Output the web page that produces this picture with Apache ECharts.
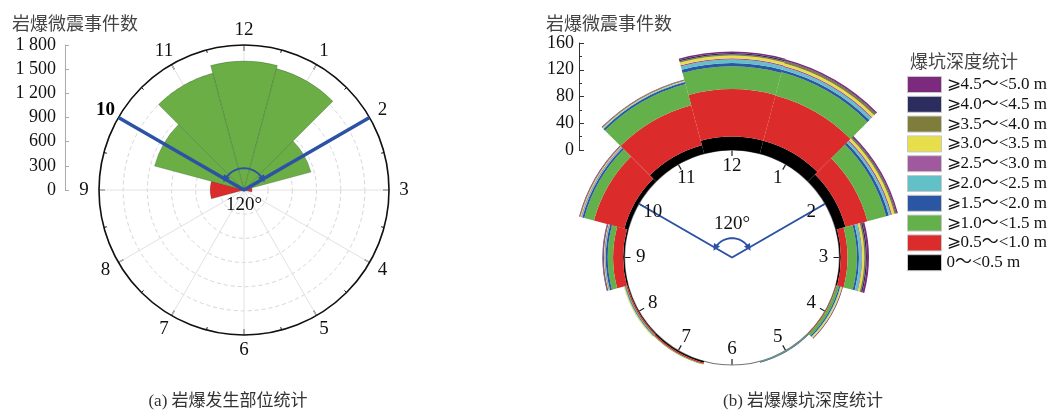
<!DOCTYPE html>
<html>
<head>
<meta charset="utf-8">
<script src="https://cdn.jsdelivr.net/npm/echarts@6/dist/echarts.min.js"></script>
<style>
  html, body { margin: 0; padding: 0; background: #fff; }
  #chart { width: 1064px; height: 413px; }
</style>
</head>
<body>
<div id="chart"></div>
<script>
// Clock positions around the tunnel section, starting at the crown.
const hours = ['12', '1', '2', '3', '4', '5', '6', '7', '8', '9', '10', '11'];

// (a) Microseismic events recorded at each clock position.
const eventCounts = [1600, 1560, 860, 100, 0, 0, 0, 0, 0, 420, 1150, 1500];
const eventTicks = [0, 300, 600, 900, 1200, 1500, 1800];

// (b) Craters at each clock position, one array per depth class.
const depthClasses = [
  '0～<0.5 m', '⩾0.5～<1.0 m', '⩾1.0～<1.5 m', '⩾1.5～<2.0 m', '⩾2.0～<2.5 m',
  '⩾2.5～<3.0 m', '⩾3.0～<3.5 m', '⩾3.5～<4.0 m', '⩾4.0～<4.5 m', '⩾4.5～<5.0 m'
];
const depth00to05 = [20, 20, 15, 2, 0, 0, 0, 2, 1, 2, 6, 13];
const depth05to10 = [71, 70, 34, 10, 1, 0, 0, 2, 2, 15, 47, 62];
const depth10to15 = [34, 36, 29, 14, 4, 1, 0, 1, 1, 8, 15, 33];
const depth15to20 = [5, 4, 4, 3, 2, 1, 0, 0, 1, 3, 3, 3];
const depth20to25 = [5, 4, 3, 4, 1, 0, 0, 0, 1, 1, 1, 1];
const depth25to30 = [2, 2, 2, 1, 0, 0, 0, 0, 0, 1, 1, 0];
const depth30to35 = [4, 4, 4, 3, 2, 0, 0, 0, 1, 1, 1, 1];
const depth35to40 = [2, 3, 2, 2, 0, 0, 0, 0, 0, 0, 1, 1];
const depth40to45 = [2, 1, 1, 2, 0, 0, 0, 0, 0, 1, 0, 0];
const depth45to50 = [2, 2, 2, 3, 1, 0, 0, 0, 0, 1, 1, 1];
const craterTicks = [0, 40, 80, 120, 160];

// Crown sector bounded by the two blue rays (10 o'clock to 2 o'clock, 120°).
const crownFrom = 10, crownTo = 2;

const FONT = "'Liberation Serif', 'Noto Sans CJK SC', serif";
const CJK = "'Noto Sans CJK SC', sans-serif";
const GREEN = '#6aae45', RED = '#dc2b2b', BLUE = '#2b52a5';
const depthColors = ['#000000', '#dc2b2b', '#64b04a', '#2a56a3', '#62c0c9',
  '#a0589e', '#e6de4a', '#7e7d3b', '#2b2d5e', '#7b2a7d'];
const depthData = [depth00to05, depth05to10, depth10to15, depth15to20, depth20to25,
  depth25to30, depth30to35, depth35to40, depth40to45, depth45to50];

const inCrown = h => { const n = Number(h); return n >= crownFrom || n <= crownTo; };

// Small arc with arrowheads marking the crown angle.
function crownArc(r) {
  const pts = [];
  for (let t = crownFrom; t <= crownTo + 12 + 1e-6; t += 0.1) {
    pts.push([r, t % 12]);
  }
  const first = pts[0], last = pts[pts.length - 1];
  pts[0] = { value: first, symbol: 'triangle', symbolSize: 7, symbolRotate: 150 };
  pts[pts.length - 1] = { value: last, symbol: 'triangle', symbolSize: 7, symbolRotate: -150 };
  return pts;
}

// Text placed at a polar position of a dial, centred on that point.
function dialText(polarIndex, data, formatter) {
  return {
    type: 'scatter', coordinateSystem: 'polar', polarIndex, z: 6,
    symbolSize: 1, itemStyle: { color: 'rgba(0,0,0,0)' },
    label: {
      show: true, position: 'inside', formatter,
      fontSize: 19, color: '#111', opacity: 1, fontFamily: FONT,
      rich: { b: { fontWeight: 'bold', fontSize: 19, fontFamily: FONT, color: '#000' } }
    },
    data
  };
}

const chart = echarts.init(document.getElementById('chart'), null, { renderer: 'canvas' });

const hiddenCategoryAngle = {
  type: 'category', data: hours, startAngle: 105, clockwise: true,
  axisLine: { show: false }, axisTick: { show: false },
  axisLabel: { show: false }, splitLine: { show: false }
};
const hiddenValueAngle = {
  type: 'value', min: 0, max: 12, startAngle: 90, clockwise: true, show: false
};

const option = {
  backgroundColor: '#fff',
  animation: false,
  textStyle: { fontFamily: FONT },
  polar: [
    { center: [244, 190], radius: 145 },
    { center: [244, 190], radius: 145 },
    { center: [732, 257.5], radius: [107.5, 214.5] },
    { center: [732, 257.5], radius: 107.5 },
    { center: [244, 190], radius: 160 }
  ],
  angleAxis: [
    Object.assign({ polarIndex: 0 }, hiddenCategoryAngle),
    {
      polarIndex: 1, type: 'value', min: 0, max: 12, interval: 1,
      startAngle: 90, clockwise: true, z: 1,
      axisLine: { lineStyle: { color: '#111', width: 1.6 } },
      axisTick: { inside: true, length: 6, lineStyle: { color: '#111', width: 1.2 } },
      minorTick: { show: true, splitNumber: 2, length: 3, lineStyle: { color: '#111', width: 1 } },
      axisLabel: { show: false },
      splitLine: { show: true, lineStyle: { color: '#e2e2e2', width: 1 } }
    },
    Object.assign({ polarIndex: 2 }, hiddenCategoryAngle),
    {
      polarIndex: 3, type: 'value', min: 0, max: 12, interval: 1,
      startAngle: 90, clockwise: true, z: 1,
      axisLine: { lineStyle: { color: '#777', width: 1.2 } },
      axisTick: { inside: true, length: 6, lineStyle: { color: '#222', width: 1.2 } },
      axisLabel: { show: false },
      splitLine: { show: false }
    },
    Object.assign({ polarIndex: 4 }, hiddenValueAngle)
  ],
  radiusAxis: [
    {
      polarIndex: 0, type: 'value', min: eventTicks[0], max: eventTicks[eventTicks.length - 1],
      interval: eventTicks[1] - eventTicks[0],
      axisLine: { show: false }, axisTick: { show: false }, axisLabel: { show: false },
      splitLine: { show: true, lineStyle: { color: '#d6d6d6', type: [4, 3], width: 1 } }
    },
    { polarIndex: 1, type: 'value', min: 0, max: 1, show: false },
    {
      polarIndex: 2, type: 'value', min: craterTicks[0], max: craterTicks[craterTicks.length - 1],
      show: false, splitLine: { show: false }
    },
    { polarIndex: 3, type: 'value', min: 0, max: 1, show: false },
    { polarIndex: 4, type: 'value', min: 0, max: 1, show: false }
  ],
  grid: [
    { left: 65, top: 45, height: 145, width: 10 },
    { left: 579, top: 43, height: 107, width: 10 }
  ],
  xAxis: [
    { gridIndex: 0, type: 'value', show: false },
    { gridIndex: 1, type: 'value', show: false }
  ],
  yAxis: [
    {
      gridIndex: 0, type: 'value', min: eventTicks[0], max: eventTicks[eventTicks.length - 1],
      interval: eventTicks[1] - eventTicks[0],
      axisLine: { show: true, lineStyle: { color: '#aaa', width: 1 } },
      axisTick: { show: true, inside: true, length: 4, lineStyle: { color: '#aaa' } },
      axisLabel: {
        margin: 9, fontSize: 18, color: '#111', fontFamily: FONT,
        formatter: v => String(v).replace(/\B(?=(\d{3})+$)/g, ' ')
      },
      splitLine: { show: false }
    },
    {
      gridIndex: 1, type: 'value', min: craterTicks[0], max: craterTicks[craterTicks.length - 1],
      interval: craterTicks[1] - craterTicks[0],
      axisLine: { show: true, lineStyle: { color: '#333', width: 1 } },
      axisTick: { show: true, inside: true, length: 5, lineStyle: { color: '#333' } },
      minorTick: { show: true, splitNumber: 2, length: 3, lineStyle: { color: '#333' } },
      axisLabel: { margin: 5, fontSize: 18, color: '#111', fontFamily: FONT },
      splitLine: { show: false }
    }
  ],
  legend: {
    orient: 'vertical', left: 907, top: 76, padding: 0,
    itemWidth: 34, itemHeight: 16, itemGap: 2.8, icon: 'rect',
    selectedMode: false,
    itemStyle: { borderColor: '#c8c8c8', borderWidth: 1 },
    textStyle: { fontSize: 17, color: '#111', fontFamily: FONT },
    data: depthClasses.slice().reverse()
  },
  graphic: [
    { type: 'text', x: 12, y: 23, style: { text: '岩爆微震事件数', font: `18px ${CJK}`, fill: '#444', verticalAlign: 'middle' } },
    { type: 'text', x: 546, y: 23, style: { text: '岩爆微震事件数', font: `18px ${CJK}`, fill: '#444', verticalAlign: 'middle' } },
    { type: 'text', x: 910, y: 61, style: { text: '爆坑深度统计', font: `18px ${CJK}`, fill: '#444', verticalAlign: 'middle' } },
    { type: 'text', x: 228, y: 402, style: { text: '(a) 岩爆发生部位统计', font: `17px ${FONT}`, fill: '#333', align: 'center', verticalAlign: 'middle' } },
    { type: 'text', x: 803, y: 402, style: { text: '(b) 岩爆爆坑深度统计', font: `17px ${FONT}`, fill: '#333', align: 'center', verticalAlign: 'middle' } }
  ],
  series: [
    // (a) events per clock position
    {
      type: 'bar', coordinateSystem: 'polar', polarIndex: 0, barCategoryGap: '0%', z: 2,
      data: eventCounts.map((v, i) => ({
        value: v,
        itemStyle: {
          color: inCrown(hours[i]) ? GREEN : RED,
          borderColor: 'rgba(40,60,35,0.5)', borderWidth: 0.5
        }
      }))
    },
    // (a) crown rays, angle arc and clock numerals
    {
      type: 'line', coordinateSystem: 'polar', polarIndex: 1, z: 5, symbol: 'none',
      lineStyle: { color: BLUE, width: 3.5 },
      data: [[1, crownFrom], [0, 0], [1, crownTo]]
    },
    {
      type: 'line', coordinateSystem: 'polar', polarIndex: 1, z: 5,
      symbol: 'none', showSymbol: true, showAllSymbol: true,
      itemStyle: { color: BLUE },
      lineStyle: { color: BLUE, width: 1.8 },
      data: crownArc(0.15)
    },
    dialText(1, [[0.105, 6]], '120°'),
    dialText(4, hours.map(h => [1, Number(h) % 12]),
      p => (hours[p.dataIndex] === String(crownFrom) ? '{b|' + hours[p.dataIndex] + '}' : hours[p.dataIndex])),
    // (b) craters stacked by depth class
    ...depthClasses.map((name, k) => ({
      name, type: 'bar', coordinateSystem: 'polar', polarIndex: 2, stack: 'depth',
      barCategoryGap: '0%', z: 2,
      itemStyle: { color: depthColors[k] },
      data: depthData[k]
    })),
    // (b) crown rays, angle arc and clock numerals
    {
      type: 'line', coordinateSystem: 'polar', polarIndex: 3, z: 5, symbol: 'none',
      lineStyle: { color: BLUE, width: 2 },
      data: [[1, crownFrom], [0, 0], [1, crownTo]]
    },
    {
      type: 'line', coordinateSystem: 'polar', polarIndex: 3, z: 5,
      symbol: 'none', showSymbol: true, showAllSymbol: true,
      itemStyle: { color: BLUE },
      lineStyle: { color: BLUE, width: 1.8 },
      data: crownArc(0.18)
    },
    dialText(3, [[0.31, 0]], '120°'),
    dialText(3, hours.map(h => [0.85, Number(h) % 12]), p => hours[p.dataIndex])
  ]
};

chart.setOption(option);
</script>
</body>
</html>
